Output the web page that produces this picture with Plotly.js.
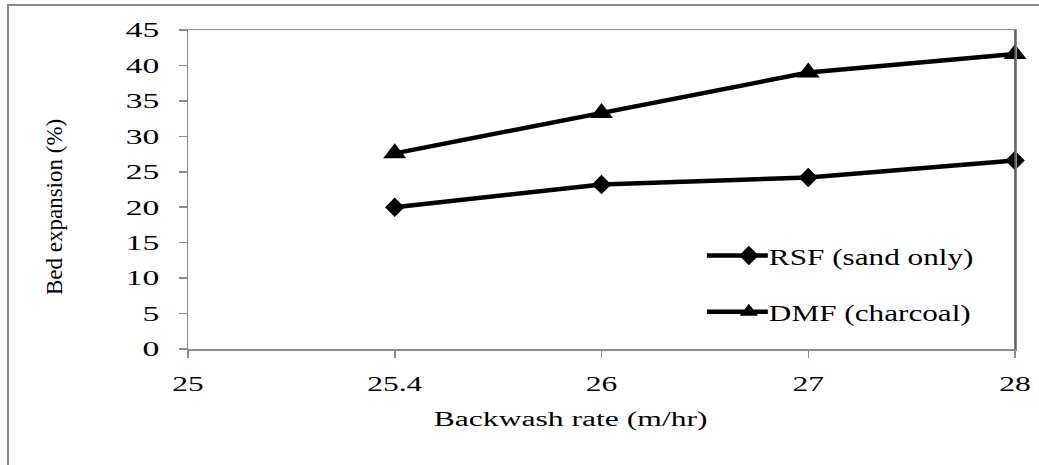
<!DOCTYPE html>
<html>
<head>
<meta charset="utf-8">
<script src="https://cdn.plot.ly/plotly-3.0.1.min.js"></script>
<style>
  html, body { margin: 0; padding: 0; background: #fff; overflow: hidden; }
  #wrap { position: relative; width: 1039px; height: 465px; overflow: hidden; }
  #chart { width: 1039px; height: 465px; }
  #frame { position: absolute; left: 7px; top: 4px; width: 1100px; height: 520px;
           border: 2px solid #8a8a8a; pointer-events: none; box-sizing: border-box; }
</style>
</head>
<body>
<div id="wrap">
  <div id="chart"></div>
  <div id="frame"></div>
</div>
<script>
// Categories on the x axis (evenly spaced, as in the original)
const xCategories = ['25', '25.4', '26', '27', '28'];
// Measured points
const dataX = ['25.4', '26', '27', '28'];
const rsfValues = [20.0, 23.2, 24.2, 26.6];
const dmfValues = [27.6, 33.3, 39.0, 41.6];
const yTicks = [0, 5, 10, 15, 20, 25, 30, 35, 40, 45];
const xTitle = 'Backwash rate (m/hr)';
const yTitle = 'Bed expansion (%)';

const xIndex = dataX.map(v => xCategories.indexOf(v));
const serif = 'Liberation Serif';

const traces = [
  {
    x: xIndex, y: rsfValues, name: 'RSF (sand only)', type: 'scatter', mode: 'lines+markers',
    line: { color: '#000', width: 4.5 },
    marker: { symbol: 'diamond', size: 15, color: '#000' },
    legendgroup: 'a', cliponaxis: false
  },
  {
    x: xIndex, y: dmfValues, name: 'DMF (charcoal)', type: 'scatter', mode: 'lines+markers',
    line: { color: '#000', width: 4.5 },
    marker: { symbol: 'triangle-up', size: 20, color: '#000' },
    legendgroup: 'b', cliponaxis: false
  }
];

const layout = {
  width: 1039, height: 465,
  margin: { l: 188, r: 24, t: 30, b: 116 },
  paper_bgcolor: '#fff', plot_bgcolor: '#fff',
  font: { family: serif, color: '#000', size: 21 },
  showlegend: true,
  legend: {
    x: 0.654, y: 0.204, xanchor: 'left', yanchor: 'middle',
    bgcolor: 'rgba(0,0,0,0)', borderwidth: 0,
    font: { family: serif, size: 24, color: '#000' },
    traceorder: 'grouped', tracegroupgap: 22
  },
  xaxis: {
    range: [0, xCategories.length - 1],
    tickmode: 'array',
    tickvals: xCategories.map((c, i) => i),
    ticktext: xCategories,
    showgrid: false, zeroline: false,
    showline: true, linecolor: '#8c8c8c', linewidth: 1.5,
    mirror: true,
    ticks: 'outside', ticklen: 7, tickcolor: '#8c8c8c', tickwidth: 1.5,
    ticklabelstandoff: 8,
    tickfont: { family: serif, size: 21, color: '#000' }
  },
  yaxis: {
    range: [0, 45],
    tickmode: 'array', tickvals: yTicks, ticktext: yTicks.map(String),
    showgrid: false, zeroline: false,
    showline: true, linecolor: '#8c8c8c', linewidth: 1.5,
    mirror: true,
    ticks: 'outside', ticklen: 8, tickcolor: '#8c8c8c', tickwidth: 1.5,
    ticklabelstandoff: 15,
    tickfont: { family: serif, size: 21, color: '#000' }
  },
  annotations: [
    { text: xTitle, xref: 'paper', yref: 'paper', x: 0.463, y: -0.222,
      xanchor: 'center', yanchor: 'middle', showarrow: false,
      font: { family: serif, size: 20, color: '#000' } },
    { text: yTitle, xref: 'paper', yref: 'paper', x: -0.162, y: 0.445,
      xanchor: 'center', yanchor: 'middle', showarrow: false, textangle: -90,
      font: { family: serif, size: 23, color: '#000' } }
  ],
  shapes: [
    { type: 'line', xref: 'x domain', yref: 'y domain', x0: 1, x1: 1, y0: 0, y1: 1,
      line: { color: '#555', width: 1.5 } }
  ]
};

// The reference's horizontal texts are drawn wider than the font's natural width.
function widenEl(t, factor) {
  const w = t.getComputedTextLength();
  if (w > 0) {
    t.setAttribute('textLength', (w * factor).toFixed(1));
    t.setAttribute('lengthAdjust', 'spacingAndGlyphs');
  }
}
function widen(selector, factor) {
  document.querySelectorAll(selector).forEach(t => widenEl(t, factor));
}

Plotly.newPlot('chart', traces, layout, { displayModeBar: false, staticPlot: true }).then(() => {
  widen('#chart .xtick text', 1.5);
  widen('#chart .ytick text', 1.6);
  widen('#chart .legendtext', 1.3);
  document.querySelectorAll('#chart .annotation-text').forEach(t => {
    if (t.textContent === xTitle) widenEl(t, 1.58);
  });
  // let the widened legend labels show in full
  document.querySelectorAll('#chart .legend [clip-path]').forEach(el => el.removeAttribute('clip-path'));
  document.querySelectorAll('#chart .legend').forEach(el => el.removeAttribute('clip-path'));
  // longer legend sample line, as in the reference
  document.querySelectorAll('#chart .legend .legendlines path').forEach(p => p.setAttribute('d', 'M-22,0h61'));
});
</script>
</body>
</html>
